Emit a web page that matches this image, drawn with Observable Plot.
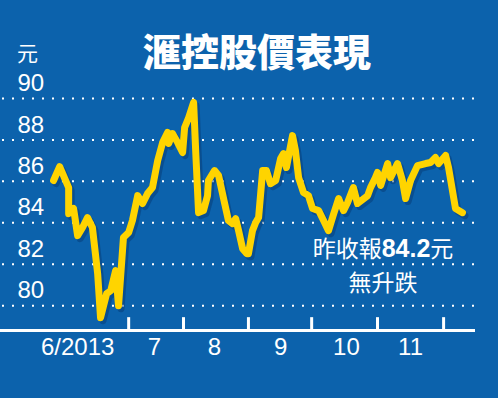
<!DOCTYPE html>
<html>
<head>
<meta charset="utf-8">
<script src="https://cdn.jsdelivr.net/npm/d3@7"></script>
<script src="https://cdn.jsdelivr.net/npm/@observablehq/plot@0.6"></script>
<style>
  html, body { margin: 0; padding: 0; background: rgb(12,98,172); overflow: hidden; }
  #wrap { position: relative; width: 498px; height: 398px; background: rgb(12,98,172); }
  #title { position: absolute; left: 0; width: 514px; top: 28px; text-align: center; color: #fff;
    font-family: "Noto Sans CJK TC", "Noto Sans CJK SC", sans-serif; font-weight: 900; font-size: 38px; line-height: 44px; letter-spacing: 0px; }
  #unit { position: absolute; left: 17px; top: 40px; color: #fff; font-family: "Noto Sans CJK TC", sans-serif; font-size: 21px; line-height: 24px; }
  #note { position: absolute; left: 283px; width: 200px; top: 231px; text-align: center; color: #fff;
    font-family: "Noto Sans CJK TC", "Liberation Sans", sans-serif; font-size: 23px; line-height: 33px; }
  #note b { font-family: "Liberation Sans", Arial, sans-serif; font-weight: 700; font-size: 25px; }
  svg { position: absolute; left: 0; top: 0; }
</style>
</head>
<body>
<div id="wrap">
  <div id="chart"></div>
  <div id="title">滙控股價表現</div>
  <div id="unit">元</div>
  <div id="note">昨收報<b>84.2</b>元<br>無升跌</div>
</div>
<script>
// Trading-session index (approximate) and closing price (HK$)
const sessions = [0,2.1,5.2,5.2,6.9,8.3,10,11.7,13.4,15.2,16.2,18.3,19.7,21.4,22.4,24.1,25.9,27.2,29,30.7,32.4,34.1,35.9,37.6,39.3,39.7,41,42.8,44.5,45.2,46.6,48.3,49,50,51.7,53.1,53.4,55.5,56.9,59,60.3,61.7,62.8,63.8,65.2,66.6,67.2,68.6,69.7,70.7,72.1,73.4,74.8,76.6,78.3,79.3,80.3,82.4,83.4,84.5,86.2,87.9,89.3,91.4,93.1,94.8,96.6,98.3,100,101.4,103.4,104.8,108.3,109.3,111,111.7,112.8,115.2,116.2,118.6,120.3,121.4,123.1,125.5,128.3,130,131.7,132.8,135.2,136.2,138.6,141];
const prices = [86.04,86.71,85.7,84.44,84.69,83.38,83.77,84.25,83.77,81.55,79.42,80.58,80.72,81.69,80.0,83.29,83.53,84.11,85.31,84.93,85.41,85.7,87.0,87.87,88.36,87.83,88.31,87.87,87.39,88.6,89.08,89.81,87.49,84.49,84.59,85.31,86.04,86.52,86.28,84.93,84.11,83.96,84.2,83.62,82.75,82.51,82.51,83.62,84.01,84.25,86.52,86.52,85.89,86.04,87.1,87.34,86.67,88.21,87.49,86.18,85.46,85.31,84.69,84.59,84.11,83.62,84.44,85.17,84.59,84.98,85.7,84.93,85.31,85.7,86.18,86.43,85.8,86.86,86.18,86.86,86.04,85.17,86.04,86.76,86.86,86.91,87.15,86.86,87.25,86.67,84.69,84.49];

const yTicks = [80, 82, 84, 86, 88, 90];
const monthBoundaries = [25.9, 44.8, 67.2, 89, 111.7, 134.5];
const monthLabels = ["6/2013", "7", "8", "9", "10", "11"];
const monthLabelPos = [8.3, 34.8, 55.5, 78.3, 101, 123.1];

const series = sessions.map((s, i) => ({s, p: prices[i]}));
const labels = monthLabels.map((t, i) => ({t, x: monthLabelPos[i]}));
const yMin = 78.8;

const chart = Plot.plot({
  width: 498,
  height: 398,
  marginTop: 98,
  marginBottom: 68,
  marginLeft: 0,
  marginRight: 23,
  x: {domain: [-18.3, 145.5], axis: null},
  y: {domain: [yMin, 90], axis: null},
  style: {background: "transparent", fontFamily: "'Liberation Sans', Arial, sans-serif"},
  marks: [
    Plot.ruleY(yTicks, {stroke: "#fff", strokeWidth: 2, strokeDasharray: "2,8", strokeDashoffset: -2}),
    Plot.text(yTicks, {y: d => d, frameAnchor: "left", textAnchor: "start", dx: 17, dy: -15, text: d => String(d), fill: "#fff", fontSize: 24}),
    Plot.ruleY([yMin], {stroke: "#fff", strokeWidth: 3}),
    Plot.ruleX(monthBoundaries, {x: d => d, y1: yMin, y2: yMin + 0.62, stroke: "#fff", strokeWidth: 3}),
    Plot.text(labels, {x: "x", frameAnchor: "bottom", dy: 24, text: "t", fill: "#fff", fontSize: 24}),
    Plot.line(series, {x: "s", y: "p", stroke: "#06386e", strokeOpacity: 0.45, strokeWidth: 7, dx: 2.5, dy: 3, strokeLinejoin: "round", strokeLinecap: "round"}),
    Plot.line(series, {x: "s", y: "p", stroke: "#FFD400", strokeWidth: 7, strokeLinejoin: "round", strokeLinecap: "round"})
  ]
});
document.getElementById("chart").appendChild(chart);
</script>
</body>
</html>
